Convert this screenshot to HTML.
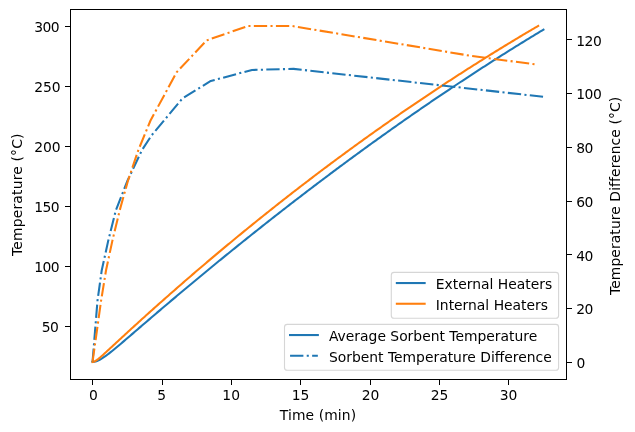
<!DOCTYPE html>
<html><head><meta charset="utf-8"><title>Heater comparison</title>
<style>html,body{margin:0;padding:0;background:#fff;overflow:hidden}svg text{white-space:pre}</style></head>
<body>
<svg width="635" height="432" viewBox="0 0 635 432" style="display:block">
<rect x="0" y="0" width="635" height="432" fill="#fff"/>
<clipPath id="c"><rect x="70.0" y="9.122" width="496.0" height="369.59999999999997"/></clipPath>
<g clip-path="url(#c)" fill="none" stroke-linejoin="round">
<polyline points="92.55,361.92 94.05,361.80 95.56,361.47 97.07,360.96 98.58,360.30 100.09,359.53 101.59,358.66 103.10,357.71 104.61,356.70 106.12,355.63 107.63,354.51 109.13,353.36 110.64,352.18 112.15,350.98 113.66,349.75 115.17,348.51 116.67,347.26 118.18,346.00 119.69,344.73 121.20,343.45 122.71,342.16 124.21,340.88 125.72,339.58 127.23,338.29 128.74,336.99 130.25,335.70 131.75,334.40 133.26,333.10 134.77,331.80 136.28,330.51 137.79,329.21 139.29,327.91 140.80,326.61 142.31,325.32 143.82,324.02 145.33,322.73 146.83,321.44 148.34,320.14 149.85,318.85 151.36,317.56 152.87,316.27 154.37,314.99 155.88,313.70 157.39,312.41 158.90,311.13 160.41,309.85 161.91,308.56 163.42,307.28 164.93,306.00 166.44,304.73 167.95,303.45 169.45,302.17 170.96,300.90 172.47,299.63 173.98,298.36 175.49,297.09 176.99,295.82 178.50,294.55 180.01,293.28 181.52,292.02 183.03,290.75 184.53,289.49 186.04,288.23 187.55,286.97 189.06,285.71 190.57,284.45 192.07,283.20 193.58,281.94 195.09,280.69 196.60,279.44 198.11,278.19 199.61,276.94 201.12,275.69 202.63,274.44 204.14,273.20 205.65,271.95 207.15,270.71 208.66,269.47 210.17,268.23 211.68,266.99 213.19,265.75 214.69,264.51 216.20,263.28 217.71,262.05 219.22,260.81 220.73,259.58 222.23,258.35 223.74,257.13 225.25,255.90 226.76,254.67 228.27,253.45 229.78,252.23 231.28,251.00 232.79,249.78 234.30,248.57 235.81,247.35 237.32,246.13 238.82,244.92 240.33,243.70 241.84,242.49 243.35,241.28 244.86,240.07 246.36,238.86 247.87,237.66 249.38,236.45 250.89,235.25 252.40,234.05 253.90,232.85 255.41,231.65 256.92,230.45 258.43,229.25 259.94,228.06 261.44,226.86 262.95,225.67 264.46,224.48 265.97,223.29 267.48,222.10 268.98,220.91 270.49,219.73 272.00,218.54 273.51,217.36 275.02,216.18 276.52,215.00 278.03,213.82 279.54,212.64 281.05,211.46 282.56,210.29 284.06,209.12 285.57,207.95 287.08,206.77 288.59,205.61 290.10,204.44 291.60,203.27 293.11,202.11 294.62,200.94 296.13,199.78 297.64,198.62 299.14,197.46 300.65,196.31 302.16,195.15 303.67,193.99 305.18,192.84 306.68,191.69 308.19,190.54 309.70,189.39 311.21,188.24 312.72,187.10 314.22,185.95 315.73,184.81 317.24,183.67 318.75,182.53 320.26,181.39 321.76,180.25 323.27,179.11 324.78,177.98 326.29,176.85 327.80,175.71 329.30,174.58 330.81,173.46 332.32,172.33 333.83,171.20 335.34,170.08 336.84,168.95 338.35,167.83 339.86,166.71 341.37,165.59 342.88,164.48 344.38,163.36 345.89,162.25 347.40,161.14 348.91,160.02 350.42,158.91 351.92,157.81 353.43,156.70 354.94,155.59 356.45,154.49 357.96,153.39 359.46,152.29 360.97,151.19 362.48,150.09 363.99,148.99 365.50,147.90 367.00,146.81 368.51,145.71 370.02,144.62 371.53,143.53 373.04,142.45 374.54,141.36 376.05,140.28 377.56,139.19 379.07,138.11 380.58,137.03 382.08,135.96 383.59,134.88 385.10,133.80 386.61,132.73 388.12,131.66 389.63,130.59 391.13,129.52 392.64,128.45 394.15,127.38 395.66,126.32 397.17,125.26 398.67,124.19 400.18,123.13 401.69,122.08 403.20,121.02 404.71,119.96 406.21,118.91 407.72,117.86 409.23,116.81 410.74,115.76 412.25,114.71 413.75,113.66 415.26,112.62 416.77,111.57 418.28,110.53 419.79,109.49 421.29,108.45 422.80,107.42 424.31,106.38 425.82,105.35 427.33,104.32 428.83,103.29 430.34,102.26 431.85,101.23 433.36,100.20 434.87,99.18 436.37,98.16 437.88,97.13 439.39,96.11 440.90,95.10 442.41,94.08 443.91,93.06 445.42,92.05 446.93,91.04 448.44,90.03 449.95,89.02 451.45,88.01 452.96,87.01 454.47,86.00 455.98,85.00 457.49,84.00 458.99,83.00 460.50,82.00 462.01,81.01 463.52,80.01 465.03,79.02 466.53,78.03 468.04,77.04 469.55,76.05 471.06,75.07 472.57,74.08 474.07,73.10 475.58,72.12 477.09,71.14 478.60,70.16 480.11,69.18 481.61,68.21 483.12,67.23 484.63,66.26 486.14,65.29 487.65,64.32 489.15,63.35 490.66,62.39 492.17,61.42 493.68,60.46 495.19,59.50 496.69,58.54 498.20,57.59 499.71,56.63 501.22,55.68 502.73,54.72 504.23,53.77 505.74,52.82 507.25,51.88 508.76,50.93 510.27,49.99 511.77,49.04 513.28,48.10 514.79,47.16 516.30,46.23 517.81,45.29 519.31,44.36 520.82,43.42 522.33,42.49 523.84,41.56 525.35,40.64 526.85,39.71 528.36,38.79 529.87,37.86 531.38,36.94 532.89,36.02 534.39,35.11 535.90,34.19 537.41,33.28 538.92,32.36 540.43,31.45 541.93,30.54 543.44,29.64" stroke="#1f77b4" stroke-width="2.083" stroke-linecap="square"/>
<polyline points="92.55,361.92 94.04,361.63 95.53,360.92 97.02,359.95 98.51,358.81 100.00,357.58 101.49,356.28 102.98,354.95 104.47,353.59 105.96,352.22 107.45,350.84 108.94,349.46 110.43,348.07 111.92,346.69 113.41,345.31 114.90,343.92 116.39,342.54 117.88,341.16 119.37,339.79 120.86,338.41 122.35,337.04 123.84,335.66 125.33,334.29 126.82,332.93 128.32,331.56 129.81,330.19 131.30,328.83 132.79,327.47 134.28,326.11 135.77,324.76 137.26,323.40 138.75,322.05 140.24,320.70 141.73,319.35 143.22,318.00 144.71,316.66 146.20,315.32 147.69,313.98 149.18,312.64 150.67,311.30 152.16,309.96 153.65,308.63 155.14,307.30 156.63,305.97 158.12,304.64 159.61,303.32 161.10,301.99 162.59,300.67 164.08,299.35 165.58,298.04 167.07,296.72 168.56,295.41 170.05,294.09 171.54,292.78 173.03,291.48 174.52,290.17 176.01,288.87 177.50,287.56 178.99,286.26 180.48,284.96 181.97,283.67 183.46,282.37 184.95,281.08 186.44,279.79 187.93,278.50 189.42,277.21 190.91,275.93 192.40,274.64 193.89,273.36 195.38,272.08 196.87,270.81 198.36,269.53 199.85,268.26 201.34,266.98 202.84,265.72 204.33,264.45 205.82,263.18 207.31,261.92 208.80,260.65 210.29,259.39 211.78,258.13 213.27,256.88 214.76,255.62 216.25,254.37 217.74,253.12 219.23,251.87 220.72,250.62 222.21,249.38 223.70,248.13 225.19,246.89 226.68,245.65 228.17,244.41 229.66,243.18 231.15,241.94 232.64,240.71 234.13,239.48 235.62,238.25 237.11,237.03 238.60,235.80 240.10,234.58 241.59,233.36 243.08,232.14 244.57,230.92 246.06,229.70 247.55,228.49 249.04,227.28 250.53,226.07 252.02,224.86 253.51,223.66 255.00,222.45 256.49,221.25 257.98,220.05 259.47,218.85 260.96,217.65 262.45,216.46 263.94,215.26 265.43,214.07 266.92,212.88 268.41,211.69 269.90,210.51 271.39,209.32 272.88,208.14 274.37,206.96 275.87,205.78 277.36,204.61 278.85,203.43 280.34,202.26 281.83,201.09 283.32,199.92 284.81,198.75 286.30,197.59 287.79,196.42 289.28,195.26 290.77,194.10 292.26,192.94 293.75,191.78 295.24,190.63 296.73,189.48 298.22,188.33 299.71,187.18 301.20,186.03 302.69,184.88 304.18,183.74 305.67,182.60 307.16,181.46 308.65,180.32 310.14,179.18 311.63,178.05 313.13,176.91 314.62,175.78 316.11,174.65 317.60,173.53 319.09,172.40 320.58,171.28 322.07,170.16 323.56,169.03 325.05,167.92 326.54,166.80 328.03,165.68 329.52,164.57 331.01,163.46 332.50,162.35 333.99,161.24 335.48,160.14 336.97,159.03 338.46,157.93 339.95,156.83 341.44,155.73 342.93,154.63 344.42,153.54 345.91,152.45 347.40,151.35 348.89,150.26 350.39,149.18 351.88,148.09 353.37,147.01 354.86,145.92 356.35,144.84 357.84,143.76 359.33,142.68 360.82,141.61 362.31,140.54 363.80,139.46 365.29,138.39 366.78,137.32 368.27,136.26 369.76,135.19 371.25,134.13 372.74,133.07 374.23,132.01 375.72,130.95 377.21,129.89 378.70,128.84 380.19,127.79 381.68,126.74 383.17,125.69 384.66,124.64 386.15,123.59 387.65,122.55 389.14,121.51 390.63,120.47 392.12,119.43 393.61,118.39 395.10,117.36 396.59,116.32 398.08,115.29 399.57,114.26 401.06,113.23 402.55,112.21 404.04,111.18 405.53,110.16 407.02,109.14 408.51,108.12 410.00,107.10 411.49,106.08 412.98,105.07 414.47,104.06 415.96,103.04 417.45,102.04 418.94,101.03 420.43,100.02 421.92,99.02 423.42,98.02 424.91,97.02 426.40,96.02 427.89,95.02 429.38,94.02 430.87,93.03 432.36,92.04 433.85,91.05 435.34,90.06 436.83,89.07 438.32,88.09 439.81,87.10 441.30,86.12 442.79,85.14 444.28,84.16 445.77,83.19 447.26,82.21 448.75,81.24 450.24,80.27 451.73,79.30 453.22,78.33 454.71,77.36 456.20,76.40 457.69,75.44 459.18,74.48 460.68,73.52 462.17,72.56 463.66,71.60 465.15,70.65 466.64,69.69 468.13,68.74 469.62,67.79 471.11,66.85 472.60,65.90 474.09,64.96 475.58,64.01 477.07,63.07 478.56,62.13 480.05,61.19 481.54,60.26 483.03,59.32 484.52,58.39 486.01,57.46 487.50,56.53 488.99,55.60 490.48,54.68 491.97,53.75 493.46,52.83 494.95,51.91 496.44,50.99 497.94,50.07 499.43,49.16 500.92,48.24 502.41,47.33 503.90,46.42 505.39,45.51 506.88,44.60 508.37,43.70 509.86,42.79 511.35,41.89 512.84,40.99 514.33,40.09 515.82,39.19 517.31,38.29 518.80,37.40 520.29,36.51 521.78,35.62 523.27,34.73 524.76,33.84 526.25,32.95 527.74,32.07 529.23,31.19 530.72,30.30 532.21,29.42 533.70,28.55 535.20,27.67 536.69,26.80 538.18,25.92" stroke="#ff7f0e" stroke-width="2.083" stroke-linecap="square"/>
<polyline points="92.55,361.92 97.47,300.85 101.75,270.21 108.25,240.64 115.85,210.27 127.60,180.43 141.84,150.32 151.62,135.32 182.46,98.44 210.79,80.97 251.98,69.95 293.57,68.88 543.44,96.83" stroke="#1f77b4" stroke-width="2.083" stroke-dasharray="13.333,3.333,2.083,3.333"/>
<polyline points="92.55,361.92 101.06,300.85 106.04,270.21 112.40,240.64 119.73,210.27 127.88,180.97 138.25,150.32 150.40,120.75 176.53,72.37 206.64,40.38 248.25,25.92 291.65,25.92 472.06,56.03 537.21,64.63" stroke="#ff7f0e" stroke-width="2.083" stroke-dasharray="13.333,3.333,2.083,3.333"/>
</g>
<g stroke="#000" stroke-width="1.0" fill="none" shape-rendering="crispEdges">
<line x1="92.5" y1="379.5" x2="92.5" y2="384.86"/>
<line x1="162.5" y1="379.5" x2="162.5" y2="384.86"/>
<line x1="231.5" y1="379.5" x2="231.5" y2="384.86"/>
<line x1="300.5" y1="379.5" x2="300.5" y2="384.86"/>
<line x1="370.5" y1="379.5" x2="370.5" y2="384.86"/>
<line x1="439.5" y1="379.5" x2="439.5" y2="384.86"/>
<line x1="508.5" y1="379.5" x2="508.5" y2="384.86"/>
<line x1="65.14" y1="326.5" x2="70.5" y2="326.5"/>
<line x1="65.14" y1="266.5" x2="70.5" y2="266.5"/>
<line x1="65.14" y1="206.5" x2="70.5" y2="206.5"/>
<line x1="65.14" y1="146.5" x2="70.5" y2="146.5"/>
<line x1="65.14" y1="86.5" x2="70.5" y2="86.5"/>
<line x1="65.14" y1="26.5" x2="70.5" y2="26.5"/>
<line x1="566.5" y1="362.5" x2="571.86" y2="362.5"/>
<line x1="566.5" y1="308.5" x2="571.86" y2="308.5"/>
<line x1="566.5" y1="254.5" x2="571.86" y2="254.5"/>
<line x1="566.5" y1="201.5" x2="571.86" y2="201.5"/>
<line x1="566.5" y1="147.5" x2="571.86" y2="147.5"/>
<line x1="566.5" y1="93.5" x2="571.86" y2="93.5"/>
<line x1="566.5" y1="39.5" x2="571.86" y2="39.5"/>
<rect x="70.5" y="9.5" width="496.0" height="370.0"/>
</g>
<g font-family="'DejaVu Sans', 'Liberation Sans', sans-serif" font-size="13.889px" fill="#000">
<text x="93.40" y="400.0" text-anchor="middle">0</text>
<text x="161.60" y="400.0" text-anchor="middle">5</text>
<text x="231.20" y="400.0" text-anchor="middle">10</text>
<text x="300.50" y="400.0" text-anchor="middle">15</text>
<text x="370.50" y="400.0" text-anchor="middle">20</text>
<text x="439.50" y="400.0" text-anchor="middle">25</text>
<text x="508.50" y="400.0" text-anchor="middle">30</text>
<text x="58.25" y="331.95" text-anchor="end" letter-spacing="-0.6">50</text>
<text x="59.05" y="271.95" text-anchor="end" letter-spacing="-0.6">100</text>
<text x="59.05" y="211.95" text-anchor="end" letter-spacing="-0.6">150</text>
<text x="60.7" y="151.95" text-anchor="end" letter-spacing="0">200</text>
<text x="60.7" y="91.95" text-anchor="end" letter-spacing="0">250</text>
<text x="59.05" y="31.95" text-anchor="end" letter-spacing="-0.6">300</text>
<text x="576.57" y="368.10" text-anchor="start" letter-spacing="-0.4">0</text>
<text x="576.17" y="314.10" text-anchor="start" letter-spacing="-0.4">20</text>
<text x="576.17" y="260.90" text-anchor="start" letter-spacing="-0.4">40</text>
<text x="576.17" y="207.10" text-anchor="start" letter-spacing="-0.4">60</text>
<text x="576.17" y="153.10" text-anchor="start" letter-spacing="-0.4">80</text>
<text x="576.17" y="99.10" text-anchor="start" letter-spacing="-0.4">100</text>
<text x="576.17" y="45.80" text-anchor="start" letter-spacing="-0.4">120</text>
<text x="318.00" y="419.7" text-anchor="middle" letter-spacing="0.1">Time (min)</text>
<text transform="translate(21.5,194.62) rotate(-90)" text-anchor="middle" letter-spacing="0.18">Temperature (°C)</text>
<text transform="translate(619.5,195.87) rotate(-90)" text-anchor="middle" letter-spacing="0.085">Temperature Difference (°C)</text>
</g>
<rect x="391.3" y="272.4" width="167.30" height="45.80" rx="2.8" ry="2.8" fill="#fff" fill-opacity="0.8" stroke="#ccc" stroke-opacity="0.8" stroke-width="1.11"/>
<line x1="396.86" y1="283.05" x2="424.64" y2="283.05" stroke="#1f77b4" stroke-width="2.083" stroke-linecap="square"/>
<text x="435.75" y="288.55" font-family="'DejaVu Sans', 'Liberation Sans', sans-serif" font-size="13.889px" fill="#000">External Heaters</text>
<line x1="396.86" y1="303.75" x2="424.64" y2="303.75" stroke="#ff7f0e" stroke-width="2.083" stroke-linecap="square"/>
<text x="435.75" y="309.65" font-family="'DejaVu Sans', 'Liberation Sans', sans-serif" font-size="13.889px" fill="#000">Internal Heaters</text>
<rect x="284.5" y="324.4" width="274.10" height="45.90" rx="2.8" ry="2.8" fill="#fff" fill-opacity="0.8" stroke="#ccc" stroke-opacity="0.8" stroke-width="1.11"/>
<line x1="290.06" y1="335.05" x2="317.84" y2="335.05" stroke="#1f77b4" stroke-width="2.083" stroke-linecap="square"/>
<text x="328.95" y="340.55" font-family="'DejaVu Sans', 'Liberation Sans', sans-serif" font-size="13.889px" fill="#000">Average Sorbent Temperature</text>
<line x1="290.06" y1="355.75" x2="317.84" y2="355.75" stroke="#1f77b4" stroke-width="2.083" stroke-dasharray="13.333,3.333,2.083,3.333"/>
<text x="328.95" y="362.05" font-family="'DejaVu Sans', 'Liberation Sans', sans-serif" font-size="13.889px" fill="#000">Sorbent Temperature Difference</text>
</svg>
</body></html>
